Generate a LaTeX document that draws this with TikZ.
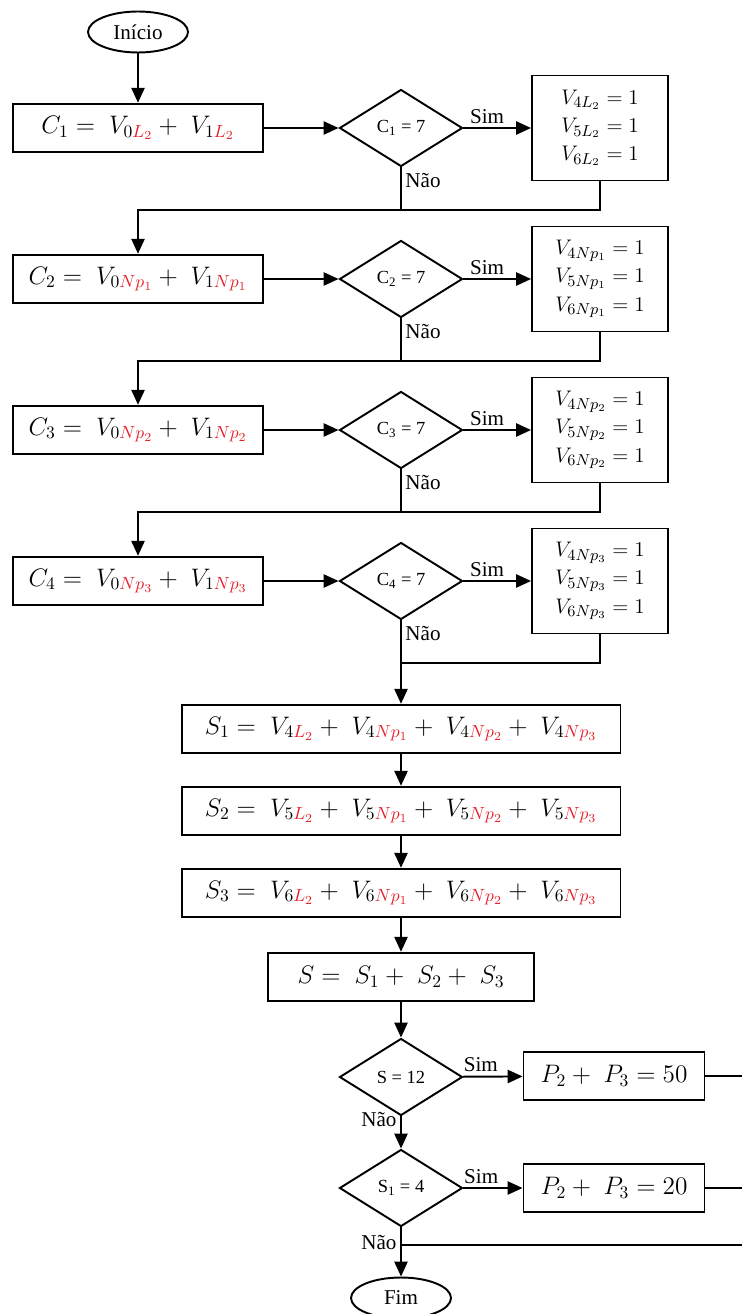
\documentclass[tikz,border=0pt]{standalone}
\usepackage{fontspec}
\setmainfont{Liberation Serif}
\usepackage{xcolor}
\usepackage{tikz}
\usetikzlibrary{shapes.geometric,arrows.meta}
\definecolor{nred}{HTML}{E5202B}
\newcommand{\redsub}[1]{{\color{nred}#1}}
\tikzset{
  base/.style={draw=black, line width=1.1pt},
  flow/.style={base, -{Triangle[length=8.5pt,width=7.5pt]}},
  term/.style={base, ellipse, minimum width=2cm, minimum height=0.82cm, inner sep=0pt, font=\fontsize{12}{14}\selectfont},
  proc/.style={base, rectangle, minimum height=0.97cm, inner sep=2pt, font=\fontsize{14.5}{17}\selectfont},
  vals/.style={base, rectangle, minimum width=2.72cm, minimum height=2.1cm, align=center, font=\fontsize{12.2}{16}\selectfont},
  dec/.style={base, diamond, minimum width=2.46cm, minimum height=1.54cm, inner sep=0pt, font=\fontsize{10.5}{12}\selectfont},
  lab/.style={font=\fontsize{12}{14}\selectfont, inner sep=2pt}
}

\begin{document}
\begin{tikzpicture}[x=0.02cm, y=0.02cm]
  \useasboundingbox (0,0) rectangle (742,-1314);
  \node[term] (ini) at (138,-32) {Início};
  % the four tests C_i = 7
  \foreach \i/\s/\y in {1/L_2/128, 2/Np_1/279, 3/Np_2/430, 4/Np_3/581}{
    \node[proc, minimum width=5cm] (c\i) at (138,-\y)
      {$C_\i =\; V_{0\redsub{\s}} +\; V_{1\redsub{\s}}$};
    \node[dec] (d\i) at (401,-\y) {C\textsubscript{\i} = 7};
    \node[vals] (v\i) at (600,-\y)
      {$V_{4\s} = 1$\\ $V_{5\s} = 1$\\ $V_{6\s} = 1$};
    \coordinate (j\i) at (401,{-(\y+82)});
    \draw[flow] (c\i) -- (d\i);
    \draw[flow] (d\i) -- node[lab, above, pos=0.35] {Sim} (v\i);
    \draw[base] (d\i) -- node[lab, right, pos=0.3] {Não} (j\i);
    \draw[base] (v\i.south) |- (j\i);
  }
  \draw[flow] (ini) -- (c1);
  \draw[flow] (j1) -| (c2);
  \draw[flow] (j2) -| (c3);
  \draw[flow] (j3) -| (c4);

  % sums
  \node[proc, minimum width=8.78cm] (s1) at (401,-729)
    {$S_1 =\; V_{4\redsub{L_2}} +\; V_{4\redsub{Np_1}} +\; V_{4\redsub{Np_2}} +\; V_{4\redsub{Np_3}}$};
  \node[proc, minimum width=8.78cm] (s2) at (401,-811)
    {$S_2 =\; V_{5\redsub{L_2}} +\; V_{5\redsub{Np_1}} +\; V_{5\redsub{Np_2}} +\; V_{5\redsub{Np_3}}$};
  \node[proc, minimum width=8.78cm] (s3) at (401,-893)
    {$S_3 =\; V_{6\redsub{L_2}} +\; V_{6\redsub{Np_1}} +\; V_{6\redsub{Np_2}} +\; V_{6\redsub{Np_3}}$};
  \node[proc, minimum width=5.32cm] (s) at (401,-977) {$S =\; S_1 +\; S_2 +\; S_3$};
  \draw[flow] (j4) -- (s1);
  \draw[flow] (s1) -- (s2);
  \draw[flow] (s2) -- (s3);
  \draw[flow] (s3) -- (s);

  % final tests
  \node[dec] (d5) at (401,-1077) {S = 12};
  \node[dec] (d6) at (401,-1188) {S\textsubscript{1} = 4};
  \node[proc, minimum width=3.62cm] (p1) at (614,-1076) {$P_2 +\; P_3 = 50$};
  \node[proc, minimum width=3.62cm] (p2) at (614,-1188) {$P_2 +\; P_3 = 20$};
  \node[term] (fim) at (401,-1298) {Fim};
  \coordinate (e1) at (742,-1076);
  \coordinate (e2) at (742,-1188);
  \coordinate (e3) at (742,-1245);
  \coordinate (k) at (401,-1245);
  \draw[flow] (s) -- (d5);
  \draw[flow] (d5) -- node[lab, above, pos=0.3] {Sim} (p1);
  \draw[flow] (d5) -- node[lab, left, pos=0.1] {Não} (d6);
  \draw[flow] (d6) -- node[lab, above, pos=0.3] {Sim} (p2);
  \draw[flow] (d6) -- node[lab, left, pos=0.3] {Não} (fim);
  \draw[base] (p1) -- (e1);
  \draw[base] (p2) -- (e2);
  \draw[base] (e3) -- (k);
\end{tikzpicture}
\end{document}
